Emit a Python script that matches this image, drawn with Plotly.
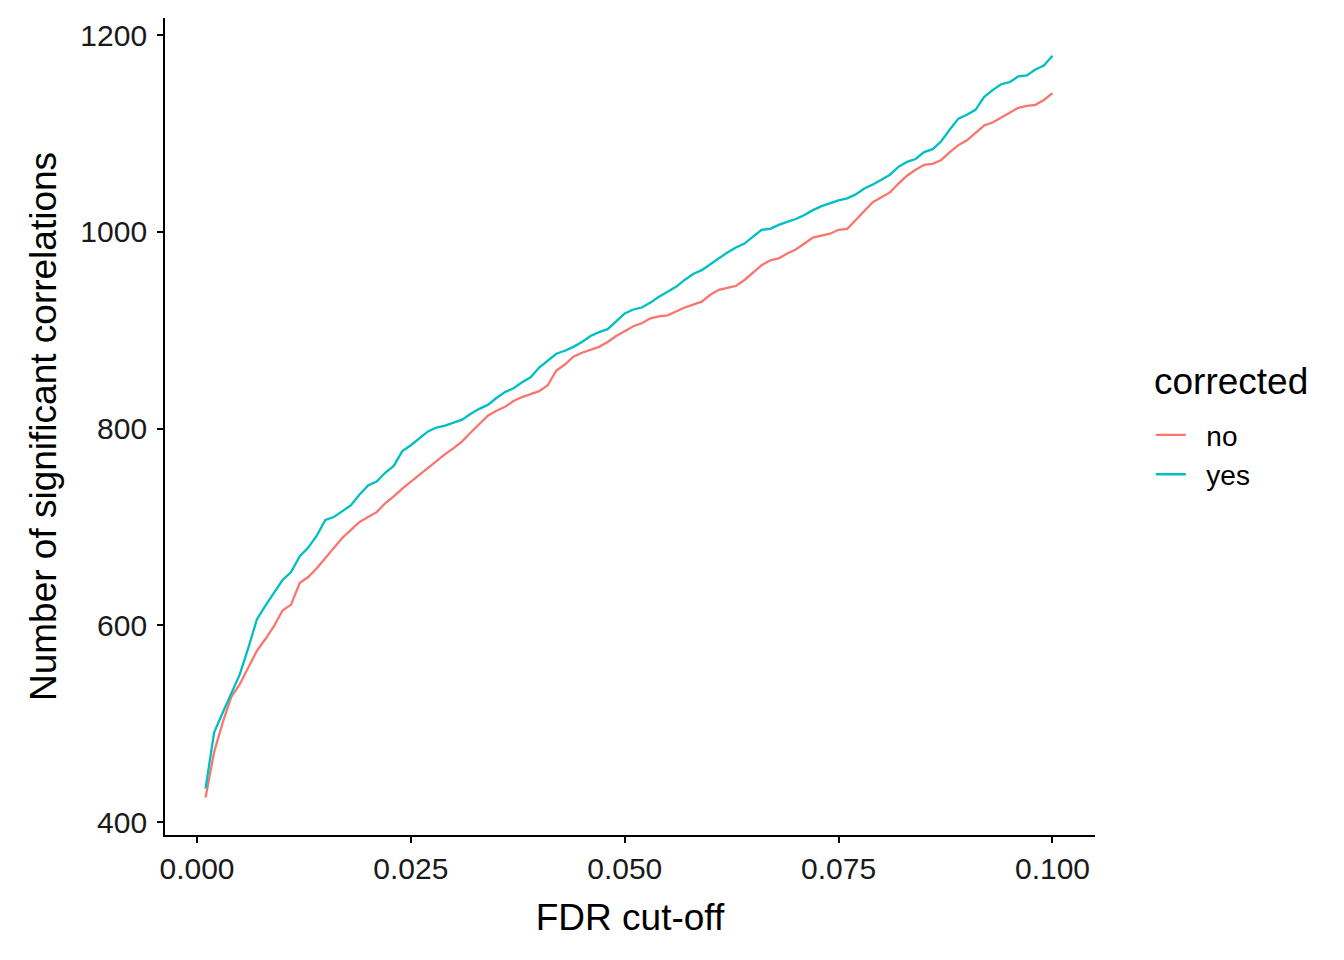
import plotly.graph_objects as go

fdr = [round(0.001 * k, 3) for k in range(1, 101)]

no_vals = [425, 471, 501, 527, 540, 557, 574, 586, 599, 615,
           621, 643, 649, 658, 668, 679, 689, 697, 705, 710,
           715, 724, 731, 739, 746, 753, 760, 767, 774, 780,
           787, 796, 804, 813, 818, 822, 828, 832, 835, 838,
           844, 859, 865, 873, 877, 880, 883, 888, 894, 899,
           904, 907, 912, 914, 915, 919, 923, 926, 929, 936,
           941, 943, 945, 951, 959, 966, 971, 973, 978, 982,
           988, 994, 996, 998, 1002, 1003, 1012, 1021, 1030, 1035,
           1040, 1049, 1057, 1063, 1068, 1069, 1073, 1081, 1088, 1093,
           1101, 1108, 1111, 1116, 1121, 1126, 1128, 1129, 1134, 1141]

yes_vals = [434, 491, 511, 530, 550, 577, 606, 620, 633, 646,
            654, 670, 679, 691, 707, 710, 716, 722, 733, 742,
            746, 755, 762, 777, 783, 790, 797, 801, 803, 806,
            809, 815, 820, 824, 831, 837, 841, 847, 852, 862,
            869, 876, 879, 883, 888, 894, 898, 901, 909, 917,
            921, 923, 928, 934, 939, 944, 951, 957, 961, 967,
            973, 979, 984, 988, 995, 1002, 1003, 1007, 1010, 1013,
            1017, 1022, 1026, 1029, 1032, 1034, 1038, 1044, 1048, 1053,
            1058, 1066, 1071, 1074, 1081, 1084, 1092, 1104, 1115, 1119,
            1124, 1137, 1144, 1150, 1152, 1158, 1159, 1165, 1169, 1179]

series_names = ["no", "yes"]
series_colors = ["#F8766D", "#00BFC4"]
legend_title = "corrected"

x_ticks = [0.0, 0.025, 0.05, 0.075, 0.1]
y_ticks = [400, 600, 800, 1000, 1200]

font_family = "Liberation Sans, Arial, sans-serif"

fig = go.Figure()
for name, vals, col in zip(series_names, [no_vals, yes_vals], series_colors):
    fig.add_trace(go.Scatter(x=fdr, y=vals, mode="lines",
                             name="\u00a0\u00a0" + name,
                             line=dict(color=col, width=2.3)))

axis_common = dict(showline=True, linecolor="black", linewidth=1.8,
                   ticks="outside", ticklen=6, tickwidth=1.8, tickcolor="black",
                   showgrid=False, zeroline=False, automargin=False,
                   tickfont=dict(size=30, color="#1a1a1a", family=font_family),
                   mirror=False)

fig.update_layout(
    width=1344, height=960,
    paper_bgcolor="white", plot_bgcolor="white",
    margin=dict(l=157, r=257, t=10, b=133),
    font=dict(family=font_family, color="black"),
    xaxis=dict(range=[-0.00374, 0.10497], tickvals=x_ticks,
               ticktext=[f"{v:.3f}" for v in x_ticks],
               title=dict(text="FDR cut-off", font=dict(size=37), standoff=20),
               **axis_common),
    yaxis=dict(range=[386.8, 1217.3], tickvals=y_ticks,
               title=dict(text="Number of significant correlations", font=dict(size=37), standoff=12),
               ticklabelstandoff=4,
               **axis_common),
    legend=dict(font=dict(size=28), x=1.06, xanchor="left",
                y=0.52, yanchor="top", bgcolor="rgba(0,0,0,0)",
                tracegroupgap=0, itemwidth=30),
    showlegend=True,
    annotations=[dict(text=legend_title, xref="paper", yref="paper",
                      x=1.0613, y=0.5545, xanchor="left", yanchor="middle",
                      showarrow=False, font=dict(size=37, color="black"))],
)

fig.write_html("out.html")
